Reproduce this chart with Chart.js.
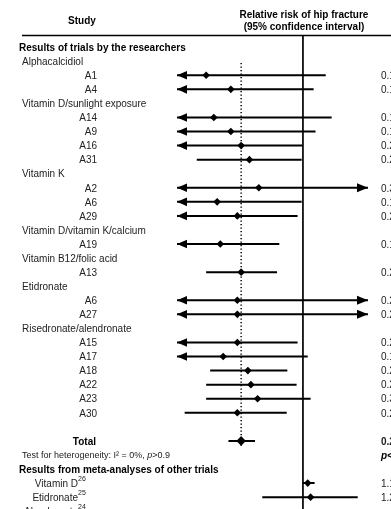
<!DOCTYPE html>
<html>
<head>
<meta charset="utf-8">
<script src="https://cdn.jsdelivr.net/npm/chart.js@4/dist/chart.umd.min.js"></script>
<style>html,body{margin:0;background:#fff}</style>
</head>
<body>
<canvas id="c" width="391" height="509"></canvas>
<script>
// one entry per row of the plot, top to bottom
const rowLabels = [
  'Results of trials by the researchers',
  'Alphacalcidiol', 'A1', 'A4',
  'Vitamin D/sunlight exposure', 'A14', 'A9', 'A16', 'A31',
  'Vitamin K', 'A2', 'A6', 'A29',
  'Vitamin D/vitamin K/calcium', 'A19',
  'Vitamin B12/folic acid', 'A13',
  'Etidronate', 'A6', 'A27',
  'Risedronate/alendronate', 'A15', 'A17', 'A18', 'A22', 'A23', 'A30',
  '',
  'Total',
  'Test for heterogeneity: I\u00b2 = 0%, ',
  'Results from meta-analyses of other trials',
  'Vitamin D', 'Etidronate', 'Alendronate'
]
const rowKinds = [
  'section',
  'group', 'study', 'study',
  'group', 'study', 'study', 'study', 'study',
  'group', 'study', 'study', 'study',
  'group', 'study',
  'group', 'study',
  'group', 'study', 'study',
  'group', 'study', 'study', 'study', 'study', 'study', 'study',
  'blank',
  'total',
  'note',
  'section',
  'meta', 'meta', 'meta'
]
const refs = [null,null,null,null,null,null,null,null,null,null,null,null,null,null,null,null,null,
  null,null,null,null,null,null,null,null,null,null,null,null,null,null,'26','25','24']

// relative risk and 95% CI
const rr = [null, null, 0.10, 0.18, null, 0.12, 0.18, 0.23, 0.28, null, 0.35, 0.13, 0.21,
  null, 0.14, null, 0.23, null, 0.21, 0.21, null, 0.21, 0.15, 0.27, 0.29, 0.34, 0.21,
  null, 0.23, null, null, 1.12, 1.20, null]
const lo = [null, null, 0.01, 0.02, null, 0.01, 0.02, 0.03, 0.08, null, 0.01, 0.02, 0.04,
  null, 0.03, null, 0.10, null, 0.01, 0.01, null, 0.04, 0.02, 0.11, 0.10, 0.10, 0.06,
  null, 0.17, null, null, 1.00, 0.38, null]
const hi = [null, null, 1.72, 1.29, null, 1.98, 1.35, 0.99, 0.97, null, 8.90, 0.97, 0.88,
  null, 0.57, null, 0.54, null, 5.10, 5.23, null, 0.88, 1.12, 0.69, 0.86, 1.20, 0.68,
  null, 0.32, null, null, 1.32, 3.68, null]
const overallP = 'p<0.001'

const xMin = 0.05, xMax = 4.7
const totalRow = rowKinds.indexOf('total')
const FONT = '"Liberation Sans", Arial, sans-serif'

const ciData = []
rr.forEach((v, i) => {
  if (v == null) return
  ciData.push({x: Math.max(lo[i], xMin), y: i}, {x: Math.min(hi[i], xMax), y: i}, {x: null, y: null})
})
const pointData = []
rr.forEach((v, i) => { if (v != null && i !== totalRow) pointData.push({x: v, y: i}) })

function fmt(v){ return v.toFixed(2) }

const forest = {
  id: 'forest',
  beforeDatasetsDraw(chart){
    const ctx = chart.ctx, x = chart.scales.x, y = chart.scales.y
    ctx.save()
    ctx.strokeStyle = '#000'
    // rule under the headers
    ctx.lineWidth = 1.5
    ctx.beginPath(); ctx.moveTo(22, 35.5); ctx.lineTo(391, 35.5); ctx.stroke()
    // line of no effect
    const x1 = x.getPixelForValue(1)
    ctx.lineWidth = 1.7
    ctx.beginPath(); ctx.moveTo(x1, 35); ctx.lineTo(x1, 509); ctx.stroke()
    // pooled estimate
    const xp = x.getPixelForValue(rr[totalRow])
    ctx.lineWidth = 1.5
    ctx.setLineDash([1.3, 2.2])
    ctx.beginPath(); ctx.moveTo(xp, 63); ctx.lineTo(xp, y.getPixelForValue(totalRow) + 5); ctx.stroke()
    ctx.restore()
  },
  afterDatasetsDraw(chart){
    const ctx = chart.ctx, x = chart.scales.x, y = chart.scales.y
    ctx.save()
    ctx.fillStyle = '#000'
    rr.forEach((v, i) => {
      if (v == null) return
      const py = y.getPixelForValue(i)
      if (lo[i] < xMin){
        const t = x.getPixelForValue(xMin)
        ctx.beginPath(); ctx.moveTo(t, py); ctx.lineTo(t + 10, py - 4.3); ctx.lineTo(t + 10, py + 4.3); ctx.closePath(); ctx.fill()
      }
      if (hi[i] > xMax){
        const t = x.getPixelForValue(xMax)
        ctx.beginPath(); ctx.moveTo(t, py); ctx.lineTo(t - 11, py - 4.5); ctx.lineTo(t - 11, py + 4.5); ctx.closePath(); ctx.fill()
      }
    })
    ctx.restore()
  },
  afterDraw(chart){
    const ctx = chart.ctx, x = chart.scales.x, y = chart.scales.y
    const x1 = x.getPixelForValue(1)
    ctx.save()
    ctx.fillStyle = '#000'
    ctx.textBaseline = 'middle'
    ctx.font = 'bold 10px ' + FONT
    ctx.textAlign = 'center'
    ctx.fillText('Study', 82, 21)
    ctx.fillText('Relative risk of hip fracture', x1 + 1, 15)
    ctx.fillText('(95% confidence interval)', x1 + 1, 27)
    rowLabels.forEach((lab, i) => {
      const py = y.getPixelForValue(i) + 1
      const k = rowKinds[i]
      ctx.fillStyle = '#000'
      if (k === 'section'){
        ctx.font = 'bold 10px ' + FONT; ctx.textAlign = 'left'; ctx.fillText(lab, 19, py)
      } else if (k === 'group'){
        ctx.font = '10px ' + FONT; ctx.textAlign = 'left'; ctx.fillStyle = '#222'; ctx.fillText(lab, 22, py)
      } else if (k === 'study'){
        ctx.font = '10px ' + FONT; ctx.textAlign = 'right'; ctx.fillStyle = '#222'; ctx.fillText(lab, 97, py)
      } else if (k === 'total'){
        ctx.font = 'bold 10px ' + FONT; ctx.textAlign = 'right'; ctx.fillText(lab, 96, py)
      } else if (k === 'note'){
        ctx.font = '9px ' + FONT; ctx.textAlign = 'left'; ctx.fillStyle = '#222'
        ctx.fillText(lab, 22, py)
        let w = 22 + ctx.measureText(lab).width
        ctx.font = 'italic 9px ' + FONT; ctx.fillText('p', w, py)
        w += ctx.measureText('p').width
        ctx.font = '9px ' + FONT; ctx.fillText('>0.9', w, py)
        ctx.fillStyle = '#000'
        ctx.font = 'bold italic 10px ' + FONT; ctx.fillText(overallP, 381, py)
      } else if (k === 'meta'){
        ctx.font = '10px ' + FONT; ctx.textAlign = 'right'; ctx.fillStyle = '#222'; ctx.fillText(lab, 78, py)
        ctx.textAlign = 'left'; ctx.font = '7px ' + FONT; ctx.fillText(refs[i], 78, py - 5)
      }
      if (rr[i] != null){
        ctx.textAlign = 'left'
        ctx.fillStyle = '#222'
        ctx.font = (k === 'total' ? 'bold ' : '') + '10px ' + FONT
        ctx.fillText(fmt(rr[i]) + ' (' + fmt(lo[i]) + '\u2013' + fmt(hi[i]) + ')', 381, py)
      }
    })
    ctx.restore()
  }
}

new Chart(document.getElementById('c'), {
  type: 'scatter',
  data: {
    datasets: [
      {label: 'ci', data: ciData, showLine: true, borderColor: '#000', borderWidth: 2, pointRadius: 0, spanGaps: false},
      {label: 'rr', data: pointData, pointStyle: 'rectRot', pointRadius: 3.8, backgroundColor: '#000', borderWidth: 0},
      {label: 'total', data: [{x: rr[totalRow], y: totalRow}], pointStyle: 'rectRot', pointRadius: 4.8, backgroundColor: '#000', borderWidth: 0}
    ]
  },
  options: {
    responsive: false,
    animation: false,
    devicePixelRatio: 1,
    layout: {padding: {left: 177, right: 23, top: 12, bottom: 4}},
    plugins: {legend: {display: false}, tooltip: {enabled: false}},
    scales: {
      x: {type: 'logarithmic', min: xMin, max: xMax, bounds: 'data', display: false},
      y: {type: 'linear', min: -2.5, max: 32.5, reverse: true, bounds: 'data', display: false}
    }
  },
  plugins: [forest]
})
</script>
</body>
</html>
